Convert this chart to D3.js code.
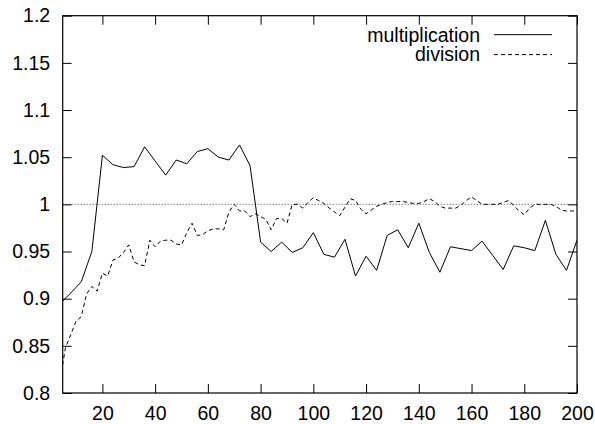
<!DOCTYPE html>
<html>
<head>
<meta charset="utf-8">
<script src="https://cdn.jsdelivr.net/npm/d3@7"></script>
<style>
  body { margin: 0; background: #fff; }
  svg { display: block; font-family: "Liberation Sans", Arial, Helvetica, sans-serif; }
</style>
</head>
<body>
<div id="wrapper"></div>
<script>
// Data
const multX = d3.range(4, 201, 4)
const multY = [
  0.895, 0.906, 0.918, 0.950, 1.052, 1.042, 1.039, 1.040, 1.061, 1.046,
  1.031, 1.047, 1.043, 1.056, 1.059, 1.050, 1.047, 1.063, 1.041, 0.960,
  0.950, 0.960, 0.949, 0.954, 0.970, 0.947, 0.944, 0.963, 0.924, 0.945,
  0.930, 0.967, 0.973, 0.954, 0.980, 0.949, 0.928, 0.955, 0.953, 0.951,
  0.961, 0.946, 0.931, 0.956, 0.954, 0.951, 0.983, 0.947, 0.930, 0.962
]

const divX = d3.range(4, 201, 2)
const divY = [
  0.815, 0.848, 0.862, 0.876, 0.881, 0.905, 0.913, 0.908, 0.927, 0.924,
  0.941, 0.943, 0.949, 0.957, 0.939, 0.936, 0.935, 0.962, 0.955, 0.961,
  0.962, 0.962, 0.958, 0.957, 0.970, 0.980, 0.967, 0.968, 0.972, 0.974,
  0.974, 0.973, 0.992, 1.000, 0.993, 0.993, 0.987, 0.990, 0.987, 0.984,
  0.973, 0.985, 0.985, 0.980, 1.000, 1.000, 0.996, 1.002, 1.007, 1.004,
  1.001, 0.996, 0.992, 0.988, 0.997, 1.006, 1.004, 0.995, 0.990, 0.994,
  0.998, 1.000, 1.002, 1.003, 1.003, 1.003, 1.002, 1.001, 1.001, 1.003,
  1.006, 1.003, 0.998, 0.996, 0.996, 0.996, 0.999, 1.004, 1.008, 1.004,
  1.000, 1.000, 1.000, 1.000, 1.002, 1.004, 0.999, 0.993, 0.989, 0.996,
  1.000, 1.000, 1.000, 1.000, 0.998, 0.994, 0.993, 0.993, 0.993
]

const xTicks = [20, 40, 60, 80, 100, 120, 140, 160, 180, 200]
const yTicks = [0.8, 0.85, 0.9, 0.95, 1, 1.05, 1.1, 1.15, 1.2]
const yTickLabels = ["0.8", "0.85", "0.9", "0.95", "1", "1.05", "1.1", "1.15", "1.2"]
const refLevel = 1
const seriesNames = ["multiplication", "division"]

// dimensions
const dimensions = {
  width: 595,
  height: 424,
  margin: { top: 15.7, right: 18, bottom: 31, left: 62.7 },
}
dimensions.boundedWidth = dimensions.width - dimensions.margin.left - dimensions.margin.right
dimensions.boundedHeight = dimensions.height - dimensions.margin.top - dimensions.margin.bottom

const wrapper = d3.select("#wrapper")
  .append("svg")
    .attr("width", dimensions.width)
    .attr("height", dimensions.height)

const bounds = wrapper.append("g")
  .attr("transform", `translate(${dimensions.margin.left},${dimensions.margin.top})`)

// scales
const xScale = d3.scaleLinear()
  .domain([4.94, 200])
  .range([0, dimensions.boundedWidth])

const yScale = d3.scaleLinear()
  .domain([0.8, 1.2])
  .range([dimensions.boundedHeight, 0])

// clip
wrapper.append("defs").append("clipPath")
    .attr("id", "plot-clip")
  .append("rect")
    .attr("width", dimensions.boundedWidth)
    .attr("height", dimensions.boundedHeight)

// reference line at 1
bounds.append("line")
    .attr("x1", 0)
    .attr("x2", dimensions.boundedWidth)
    .attr("y1", yScale(refLevel))
    .attr("y2", yScale(refLevel))
    .attr("stroke", "#444")
    .attr("stroke-width", 1)
    .attr("stroke-dasharray", "1,2")

// lines
const lineGen = (xs, ys) => d3.line()
  .x((d, i) => xScale(xs[i]))
  .y(d => yScale(d))

const plot = bounds.append("g").attr("clip-path", "url(#plot-clip)")

plot.append("path")
    .attr("d", lineGen(multX, multY)(multY))
    .attr("fill", "none")
    .attr("stroke", "#000")
    .attr("stroke-width", 1)

plot.append("path")
    .attr("d", lineGen(divX, divY)(divY))
    .attr("fill", "none")
    .attr("stroke", "#000")
    .attr("stroke-width", 1)
    .attr("stroke-dasharray", "4,3")

// axes
const fontSize = "19.5px"

const xAxis = bounds.append("g")
    .attr("transform", `translate(0,${dimensions.boundedHeight})`)
    .call(d3.axisBottom(xScale).tickValues(xTicks).tickSize(-9).tickSizeOuter(0).tickPadding(13))
const xTop = bounds.append("g")
    .call(d3.axisTop(xScale).tickValues(xTicks).tickSize(-9).tickSizeOuter(0).tickFormat(""))

const yAxis = bounds.append("g")
    .call(d3.axisLeft(yScale).tickValues(yTicks).tickSize(-9).tickSizeOuter(0).tickPadding(12.5)
      .tickFormat((d, i) => yTickLabels[i]))
const yRight = bounds.append("g")
    .attr("transform", `translate(${dimensions.boundedWidth},0)`)
    .call(d3.axisRight(yScale).tickValues(yTicks).tickSize(-9).tickSizeOuter(0).tickFormat(""))

;[xAxis, xTop, yAxis, yRight].forEach(ax => {
  ax.select(".domain").remove()
  ax.selectAll("line").attr("stroke", "#000")
  ax.selectAll("text")
    .attr("fill", "#000")
    .style("font-size", fontSize)
    .style("font-family", "'Liberation Sans', Arial, Helvetica, sans-serif")
})

// frame
bounds.append("rect")
    .attr("width", dimensions.boundedWidth)
    .attr("height", dimensions.boundedHeight)
    .attr("fill", "none")
    .attr("stroke", "#000")
    .attr("stroke-width", 1.2)

// legend
const legend = wrapper.append("g")
const legendY = [34.7, 54.6]
seriesNames.forEach((name, i) => {
  legend.append("text")
      .attr("x", 480)
      .attr("y", legendY[i])
      .attr("dy", "0.35em")
      .attr("text-anchor", "end")
      .style("font-size", fontSize)
      .text(name)
  legend.append("line")
      .attr("x1", 494)
      .attr("x2", 552)
      .attr("y1", legendY[i])
      .attr("y2", legendY[i])
      .attr("stroke", "#000")
      .attr("stroke-width", 1)
      .attr("stroke-dasharray", i === 1 ? "4,3" : null)
})
</script>
</body>
</html>
